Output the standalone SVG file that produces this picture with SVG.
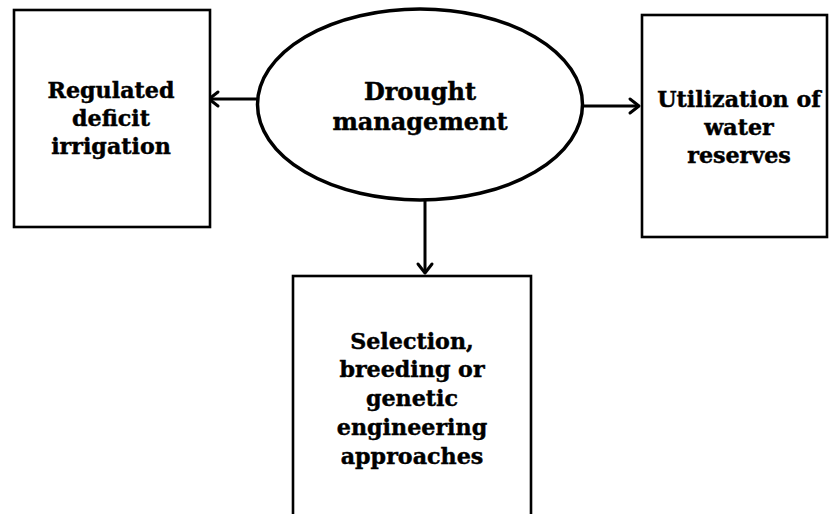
<svg xmlns="http://www.w3.org/2000/svg" width="829" height="514" viewBox="0 0 829 514">
<style>
.box{fill:#fff;stroke:#000;stroke-width:2.6}
.ell{fill:#fff;stroke:#000;stroke-width:3.5}
.lbl{font-family:"DejaVu Serif","Liberation Serif",serif;font-weight:bold;font-size:22.2px;fill:#000;stroke:#000;stroke-width:0.45;text-anchor:middle}
.big{font-size:24px}
.con{fill:none;stroke:#000;stroke-width:3}
</style>
<defs>
<marker id="arrow" viewBox="-13 -10 16 20" refX="0" refY="0" markerWidth="16" markerHeight="20" markerUnits="userSpaceOnUse" orient="auto">
<path d="M-9,-7 L0,0 L-9,7" fill="none" stroke="#000" stroke-width="3" stroke-linecap="round" stroke-linejoin="round"/>
</marker>
</defs>
<rect width="829" height="514" fill="#fff"/>
<g id="connectors">
<path class="con" d="M258,99 L209,99" marker-end="url(#arrow)"/>
<path class="con" d="M583,106 L639,106" marker-end="url(#arrow)"/>
<path class="con" d="M425,200 L425,273" marker-end="url(#arrow)"/>
</g>
<g id="drought">
<ellipse class="ell" cx="420" cy="104.5" rx="162.5" ry="95.5"/>
<text class="lbl big" x="420" y="100">Drought</text>
<text class="lbl big" x="420" y="130">management</text>
</g>
<g id="rdi">
<rect class="box" x="14" y="10" width="196" height="217"/>
<text class="lbl" x="111" y="98">Regulated</text>
<text class="lbl" x="111" y="126">deficit</text>
<text class="lbl" x="111" y="154">irrigation</text>
</g>
<g id="water">
<rect class="box" x="642" y="15" width="185" height="222"/>
<text class="lbl" x="739" y="107">Utilization of</text>
<text class="lbl" x="739" y="135">water</text>
<text class="lbl" x="739" y="163">reserves</text>
</g>
<g id="breeding">
<rect class="box" x="293" y="276" width="238" height="250"/>
<text class="lbl" x="412" y="349">Selection,</text>
<text class="lbl" x="412" y="377">breeding or</text>
<text class="lbl" x="412" y="406">genetic</text>
<text class="lbl" x="412" y="435">engineering</text>
<text class="lbl" x="412" y="464">approaches</text>
</g>
</svg>
